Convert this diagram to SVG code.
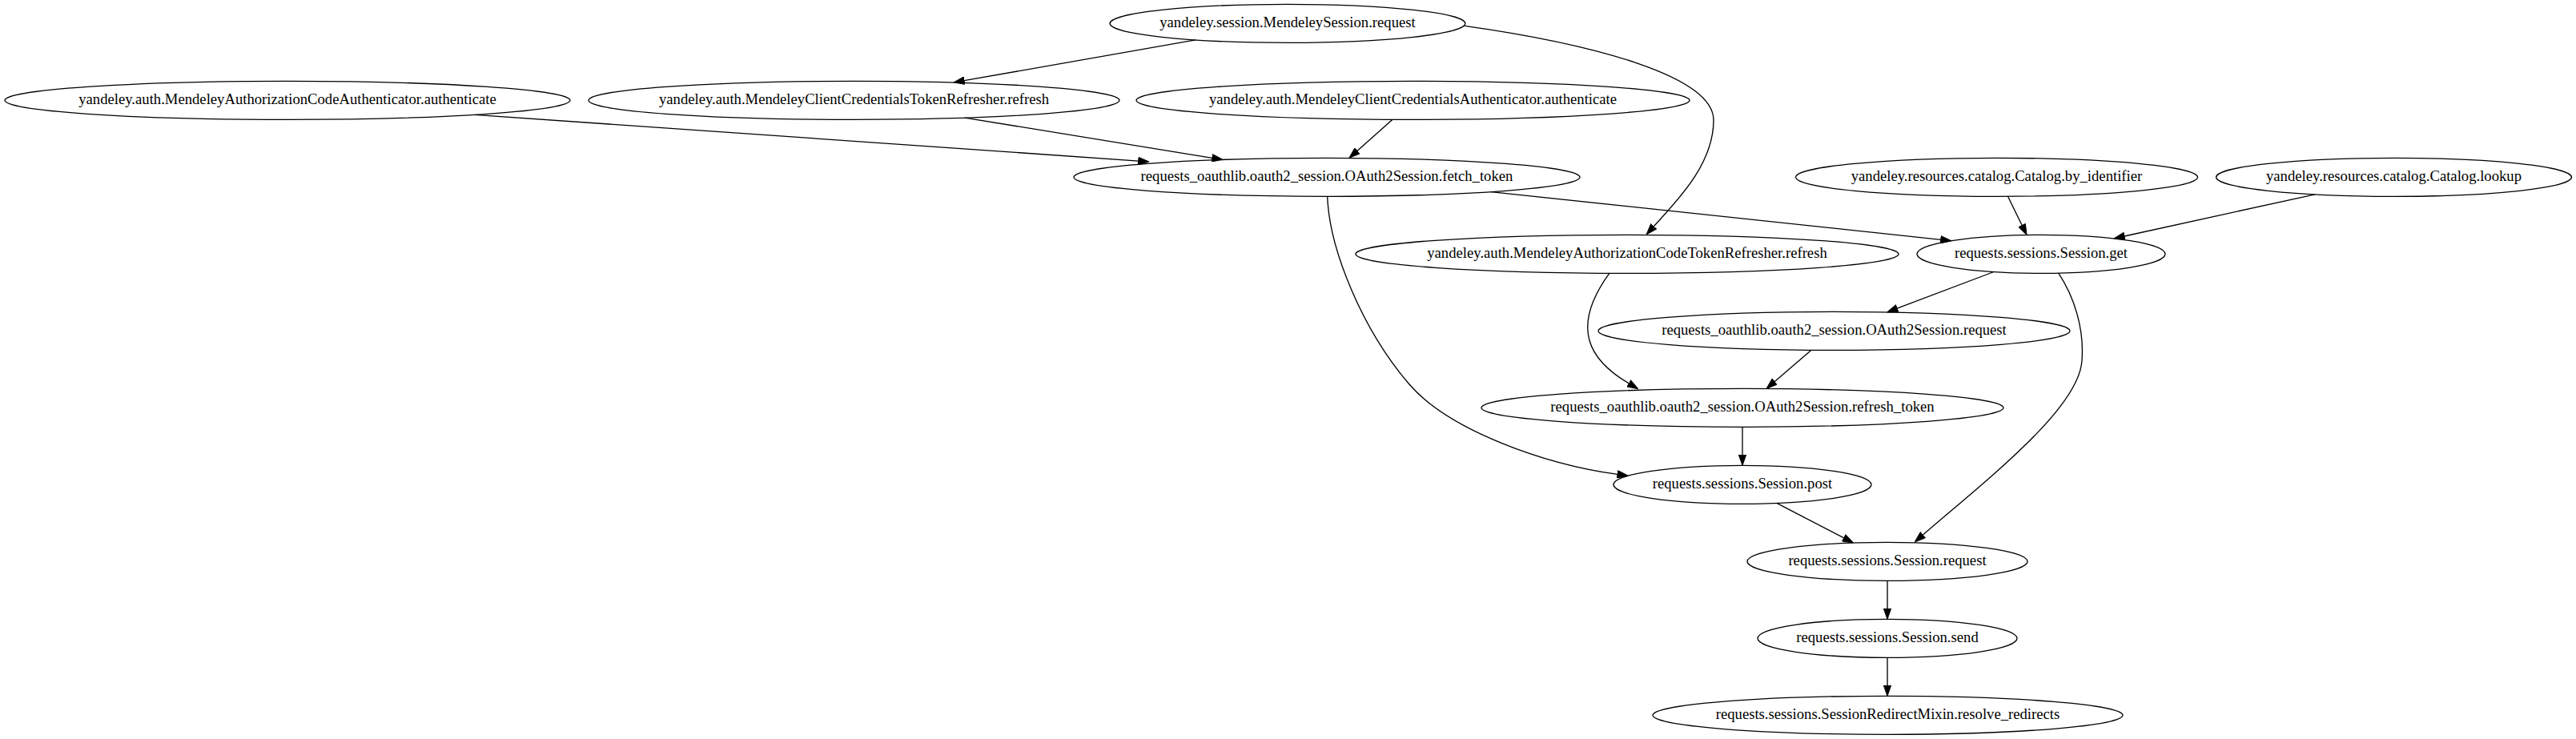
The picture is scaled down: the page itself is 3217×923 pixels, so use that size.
<svg xmlns="http://www.w3.org/2000/svg" width="3217" height="923" viewBox="0 0 3217 923">
<style>
.node ellipse{fill:none;stroke:#000;stroke-width:1.33}
.node text{font-family:"Liberation Serif","Times New Roman",serif;font-size:18.67px;fill:#000;text-anchor:middle}
#edges path{fill:none;stroke:#000;stroke-width:1.33;marker-end:url(#arrow)}
</style>
<defs>
<marker id="arrow" markerUnits="userSpaceOnUse" viewBox="0 0 14 10" refX="0.5" refY="5" markerWidth="14" markerHeight="10" orient="auto">
<path d="M0.5,0.33 L13.83,5 L0.5,9.67 Z" fill="#000" stroke="#000" stroke-width="1"/>
</marker>
</defs>
<rect width="3217" height="923" fill="#fff"/>
<g id="edges">
<path id="e_A_C" d="M1493,49.8 L1204.1,100.7"/>
<path id="e_A_H" d="M1829.3,32.3 C1990,55 2140,95 2140,150 C2140,205 2095,250 2065.1,282.9"/>
<path id="e_B_E" d="M593,143.3 L1421.7,201.1"/>
<path id="e_C_E" d="M1205,147.1 L1513.8,197.3"/>
<path id="e_D_E" d="M1739,149.2 L1694.9,188.5"/>
<path id="e_E_I" d="M1862,239.6 L2423.7,299.3"/>
<path id="e_E_L" d="M1657.7,245.3 C1660,310 1700,410 1760,480 C1810,538 1930,580 2020,592.4"/>
<path id="e_F_I" d="M2507.5,245.3 L2525.2,281.5"/>
<path id="e_G_I" d="M2890.8,242.8 L2653,295"/>
<path id="e_H_K" d="M2010,341.2 C1960,410 1985,450 2034.3,479"/>
<path id="e_I_J" d="M2490,339.5 L2369.2,385.2"/>
<path id="e_I_M" d="M2570.7,341.1 C2590,370 2603,410 2600,450 C2597,510 2480,600 2401.3,668.2"/>
<path id="e_J_K" d="M2262,437.2 L2216.1,476.7"/>
<path id="e_K_L" d="M2176,533.3 L2176,568"/>
<path id="e_L_M" d="M2218.8,628.4 L2302.7,671.9"/>
<path id="e_M_N" d="M2357,725.3 L2357,760"/>
<path id="e_N_O" d="M2357,821.3 L2357,856"/>
</g>
<g id="nodes">
<g id="node_A" class="node"><ellipse cx="1608" cy="29.33" rx="222" ry="24"/><text x="1608" y="34.33">yandeley.session.MendeleySession.request</text></g>
<g id="node_B" class="node"><ellipse cx="359" cy="125.33" rx="353" ry="24"/><text x="359" y="130.33">yandeley.auth.MendeleyAuthorizationCodeAuthenticator.authenticate</text></g>
<g id="node_C" class="node"><ellipse cx="1066.5" cy="125.33" rx="331.5" ry="24"/><text x="1066.5" y="130.33">yandeley.auth.MendeleyClientCredentialsTokenRefresher.refresh</text></g>
<g id="node_D" class="node"><ellipse cx="1764.5" cy="125.33" rx="345.5" ry="24"/><text x="1764.5" y="130.33">yandeley.auth.MendeleyClientCredentialsAuthenticator.authenticate</text></g>
<g id="node_E" class="node"><ellipse cx="1657" cy="221.33" rx="316" ry="24"/><text x="1657" y="226.33">requests_oauthlib.oauth2_session.OAuth2Session.fetch_token</text></g>
<g id="node_F" class="node"><ellipse cx="2493.5" cy="221.33" rx="251" ry="24"/><text x="2493.5" y="226.33">yandeley.resources.catalog.Catalog.by_identifier</text></g>
<g id="node_G" class="node"><ellipse cx="2989.5" cy="221.33" rx="222" ry="24"/><text x="2989.5" y="226.33">yandeley.resources.catalog.Catalog.lookup</text></g>
<g id="node_H" class="node"><ellipse cx="2032" cy="317.33" rx="339" ry="24"/><text x="2032" y="322.33">yandeley.auth.MendeleyAuthorizationCodeTokenRefresher.refresh</text></g>
<g id="node_I" class="node"><ellipse cx="2549" cy="317.33" rx="155" ry="24"/><text x="2549" y="322.33">requests.sessions.Session.get</text></g>
<g id="node_J" class="node"><ellipse cx="2290.5" cy="413.33" rx="294.5" ry="24"/><text x="2290.5" y="418.33">requests_oauthlib.oauth2_session.OAuth2Session.request</text></g>
<g id="node_K" class="node"><ellipse cx="2176" cy="509.33" rx="326" ry="24"/><text x="2176" y="514.33">requests_oauthlib.oauth2_session.OAuth2Session.refresh_token</text></g>
<g id="node_L" class="node"><ellipse cx="2176" cy="605.33" rx="161" ry="24"/><text x="2176" y="610.33">requests.sessions.Session.post</text></g>
<g id="node_M" class="node"><ellipse cx="2357" cy="701.33" rx="175" ry="24"/><text x="2357" y="706.33">requests.sessions.Session.request</text></g>
<g id="node_N" class="node"><ellipse cx="2357" cy="797.33" rx="162" ry="24"/><text x="2357" y="802.33">requests.sessions.Session.send</text></g>
<g id="node_O" class="node"><ellipse cx="2357.5" cy="893.33" rx="293.5" ry="24"/><text x="2357.5" y="898.33">requests.sessions.SessionRedirectMixin.resolve_redirects</text></g>
</g>
</svg>
